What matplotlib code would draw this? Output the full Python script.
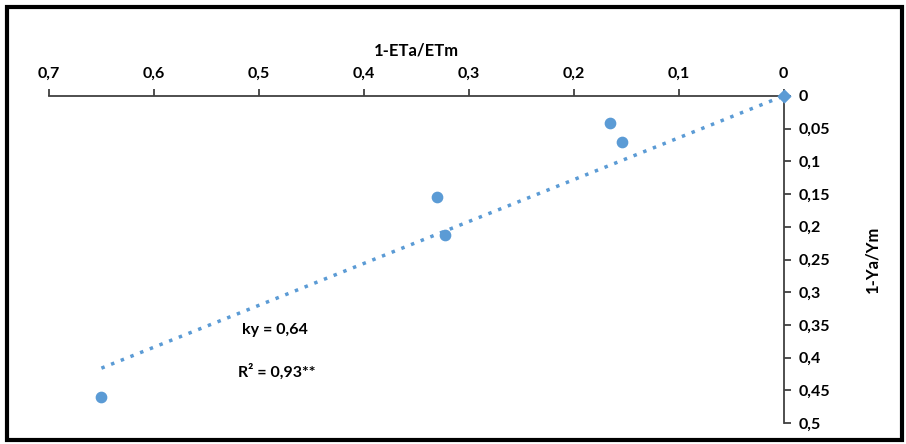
import matplotlib.pyplot as plt
from matplotlib.ticker import FuncFormatter, MultipleLocator
from matplotlib.patches import Rectangle

plt.rcParams['font.family'] = ['Lato', 'DejaVu Sans']
plt.rcParams['font.weight'] = 'bold'

# data
eta = [0.165, 0.154, 0.330, 0.323, 0.650]
ya = [0.041, 0.070, 0.154, 0.213, 0.460]
origin_x = [0.0]
origin_y = [0.0]
ky = 0.64
trend_x = [0.65, 0.0]
trend_y = [ky * v for v in trend_x]

blue = '#5b9bd5'

fig = plt.figure(figsize=(9.06, 4.44), dpi=100)
ax = fig.add_axes([0.054, 0.047, 0.811, 0.737])

ax.plot(trend_x, trend_y, linestyle=(0, (1, 2.0)), color=blue, linewidth=2.5)
ax.scatter(eta, ya, s=55, color=blue, zorder=3)
ax.scatter(origin_x, origin_y, s=40, marker='D', color=blue, zorder=3, clip_on=False)

ax.set_xlim(0.7, 0)
ax.set_ylim(0.5, 0)
ax.xaxis.set_major_locator(MultipleLocator(0.1))
ax.yaxis.set_major_locator(MultipleLocator(0.05))

def comma(v, pos):
    s = ('%.2f' % v).rstrip('0').rstrip('.')
    return s.replace('.', ',')

ax.xaxis.set_major_formatter(FuncFormatter(comma))
ax.yaxis.set_major_formatter(FuncFormatter(comma))

ax.xaxis.tick_top()
ax.yaxis.tick_right()
for side in ['bottom', 'left']:
    ax.spines[side].set_visible(False)
ax.spines['top'].set_color('#404040')
ax.spines['right'].set_color('#404040')
ax.spines['top'].set_linewidth(1.3)
ax.spines['right'].set_linewidth(1.3)
ax.tick_params(axis='both', length=5, width=1.3, color='#404040', labelsize=11.5, pad=6)
for lab in ax.get_xticklabels() + ax.get_yticklabels():
    lab.set_fontweight('bold')

ax.set_xlabel('1-ETa/ETm', fontsize=12, fontweight='bold', labelpad=8)
ax.xaxis.set_label_position('top')
ax.set_ylabel('1-Ya/Ym', fontsize=12, fontweight='bold', labelpad=24, rotation=90)
ax.yaxis.set_label_position('right')

fig.text(275 / 906, 1 - 330 / 444, 'ky = 0,64', ha='center', va='center', fontsize=11.5, fontweight='bold')
fig.text(277 / 906, 1 - 372 / 444, 'R² = 0,93**', ha='center', va='center', fontsize=11.5, fontweight='bold')

fig.patches.append(Rectangle((7 / 906, 4 / 444), 895 / 906, 433 / 444, transform=fig.transFigure,
                             fill=False, edgecolor='black', linewidth=3))

fig.savefig('out.png', dpi=100)
